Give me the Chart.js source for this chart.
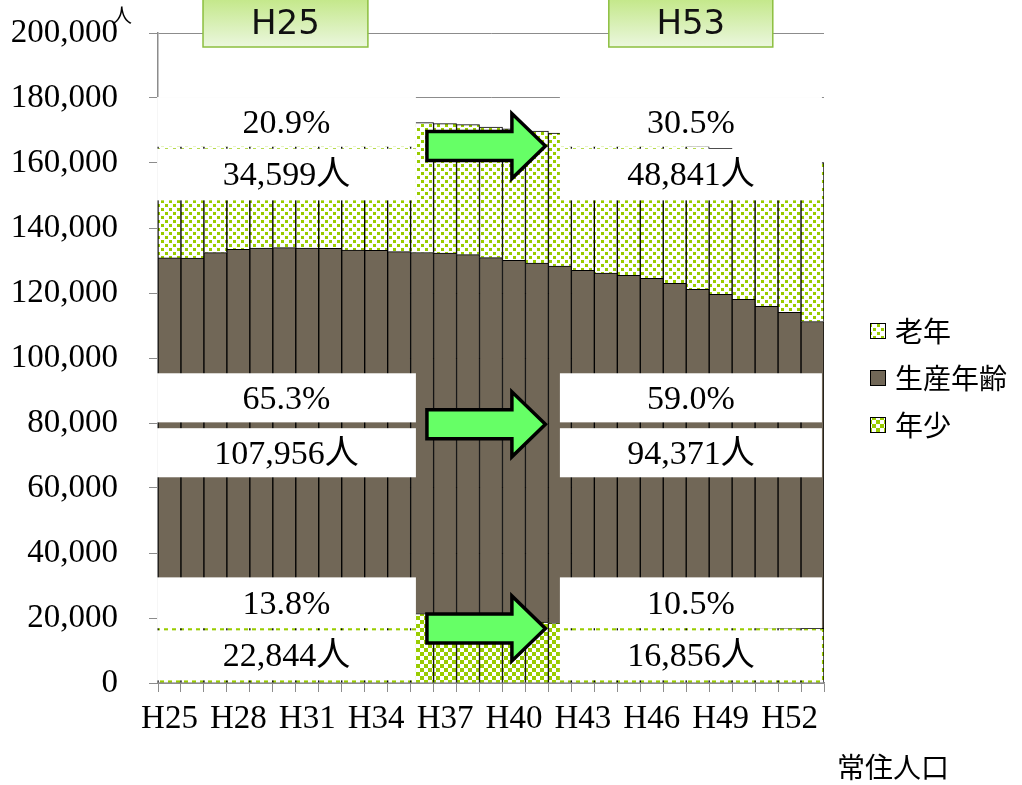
<!DOCTYPE html>
<html><head><meta charset="utf-8">
<script src="https://cdn.jsdelivr.net/npm/chart.js@4"></script>
<style>html,body{margin:0;padding:0;background:#fff;}canvas{display:block;}</style>
</head><body>
<canvas id="c" width="1022" height="785"></canvas>
<script>
// ---- data ----
const years = ['H25','H26','H27','H28','H29','H30','H31','H32','H33','H34','H35','H36','H37','H38','H39','H40','H41','H42','H43','H44','H45','H46','H47','H48','H49','H50','H51','H52','H53'];
const shownTicks = ['H25','H28','H31','H34','H37','H40','H43','H46','H49','H52'];
const youth   = [22844,22700,22550,22400,22250,22100,21950,21800,21700,21600,21480,21350,20900,20400,19900,19400,18770,18550,18350,18150,17950,17800,17650,17500,17350,17200,17080,16960,16856];
const working = [107956,108050,109880,111050,111600,111870,111900,111960,111540,111540,111260,111120,111410,111420,111000,110670,110460,109760,108650,108010,107500,106730,105340,103640,102250,100860,98830,97100,94371];
const elderly = [34599,35300,36000,36700,37300,37800,38300,38700,39100,39400,39700,39950,39820,40000,40180,40460,40620,40930,41400,41800,42300,42800,43400,44100,44900,45800,46700,47700,48841];
const seriesNames = ['年少','生産年齢','老年'];
const leftTexts  = ['20.9%','34,599人','65.3%','107,956人','13.8%','22,844人'];
const rightTexts = ['30.5%','48,841人','59.0%','94,371人','10.5%','16,856人'];
const badgeTexts = ['H25','H53'];
const unitText = '人';
const footText = '常住人口';

// ---- patterns ----
const GREEN = '#99cc00';
function makePattern(draw){
  const c = document.createElement('canvas'); c.width = 8; c.height = 8;
  const g = c.getContext('2d'); g.fillStyle = '#fff'; g.fillRect(0,0,8,8);
  g.fillStyle = GREEN; draw(g);
  return document.getElementById('c').getContext('2d').createPattern(c,'repeat');
}
const checker = makePattern(g => { g.fillRect(0,0,4,4); g.fillRect(4,4,4,4); });
const dots = makePattern(g => { g.fillRect(1,0,3,3); g.fillRect(5,4,3,3); });
const WORK = '#716757';

const serif = "'Liberation Serif','Noto Sans CJK JP',serif";
const cjk = "'Noto Sans CJK JP',sans-serif";

// annotation layout (category index / value space)
const colL = [-0.54, 10.73], colR = [17.0, 28.41];
const rows = [[180300,165000],[164400,148500],[95300,80200],[78400,63300],[32500,16850],[16200,800]];
const arrowCenters = [165200, 79600, 16800];
const arrowX = [11.21, 14.91, 16.37];
const badgeX = [[1.46, 8.64],[19.13, 26.27]];

const overlay = {
  id:'overlay',
  afterDatasetsDraw(chart){
    const {ctx, scales:{x, y}} = chart;
    const X = v => x.getPixelForValue(v), Y = v => y.getPixelForValue(v);
    ctx.save();
    // white boxes with texts
    [[colL,leftTexts],[colR,rightTexts]].forEach(([col,texts]) => {
      rows.forEach((r,i) => {
        const x0 = X(col[0]), x1 = X(col[1]), y0 = Y(r[0]), y1 = Y(r[1]);
        ctx.fillStyle = '#fff'; ctx.fillRect(x0, y0, x1-x0, y1-y0);
        ctx.fillStyle = '#000'; ctx.font = '34px ' + serif;
        ctx.textAlign = 'center'; ctx.textBaseline = 'middle';
        ctx.fillText(texts[i], (x0+x1)/2, (y0+y1)/2 + 2);
      });
    });
    // arrows
    arrowCenters.forEach(v => {
      const cy = Y(v), xl = X(arrowX[0]), xb = X(arrowX[1]), xt = X(arrowX[2]);
      const bh = 14.5, hh = 32.5;
      ctx.beginPath();
      ctx.moveTo(xl, cy-bh); ctx.lineTo(xb, cy-bh); ctx.lineTo(xb, cy-hh);
      ctx.lineTo(xt, cy); ctx.lineTo(xb, cy+hh); ctx.lineTo(xb, cy+bh);
      ctx.lineTo(xl, cy+bh); ctx.closePath();
      ctx.fillStyle = '#66ff66'; ctx.fill();
      ctx.lineWidth = 3.5; ctx.strokeStyle = '#000'; ctx.lineJoin = 'miter'; ctx.stroke();
    });
    // badges
    badgeX.forEach((bx,i) => {
      const x0 = X(bx[0]), x1 = X(bx[1]), y0 = -3, y1 = 47;
      const gr = ctx.createLinearGradient(0, y0, 0, y1);
      gr.addColorStop(0, '#c2e786'); gr.addColorStop(1, '#ebf7de');
      ctx.fillStyle = gr; ctx.fillRect(x0, y0, x1-x0, y1-y0);
      ctx.lineWidth = 1.5; ctx.strokeStyle = '#8cbf3f'; ctx.strokeRect(x0, y0, x1-x0, y1-y0);
      ctx.fillStyle = '#111'; ctx.font = "34px 'DejaVu Sans',sans-serif";
      ctx.textAlign = 'center'; ctx.textBaseline = 'middle';
      ctx.fillText(badgeTexts[i], (x0+x1)/2, 25);
    });
    // unit
    ctx.fillStyle = '#000'; ctx.font = '20px ' + cjk; ctx.textAlign = 'center'; ctx.textBaseline = 'middle';
    ctx.fillText(unitText, 122, 15);
    // legend
    const leg = [[seriesNames[2], dots, 331],[seriesNames[1], WORK, 378],[seriesNames[0], checker, 425]];
    leg.forEach(([name, fill, cy]) => {
      ctx.fillStyle = fill; ctx.fillRect(870, cy-8, 16, 16);
      ctx.lineWidth = 1; ctx.strokeStyle = '#000'; ctx.strokeRect(870.5, cy-7.5, 15, 15);
      ctx.fillStyle = '#000'; ctx.font = '28px ' + cjk; ctx.textAlign = 'left'; ctx.textBaseline = 'middle';
      ctx.fillText(name, 895, cy);
    });
    // footer
    ctx.font = '28px ' + cjk; ctx.textAlign = 'left';
    ctx.fillText(footText, 837, 767);
    ctx.restore();
  }
};

const ds = (label, data, bg) => ({label, data, backgroundColor: bg, borderColor:'#000', borderWidth:1,
  barPercentage:1, categoryPercentage:1, stack:'s'});

new Chart(document.getElementById('c'), {
  type:'bar',
  data:{ labels: years, datasets:[ ds(seriesNames[0], youth, checker), ds(seriesNames[1], working, WORK), ds(seriesNames[2], elderly, dots) ] },
  options:{
    responsive:false, animation:false, devicePixelRatio:1,
    layout:{ padding:{ left:0, right:198, top:33, bottom:0 } },
    plugins:{ legend:{display:false}, tooltip:{enabled:false} },
    scales:{
      x:{ stacked:true,
        grid:{ offset:true, drawOnChartArea:false, drawTicks:true, tickLength:9, color:'#8c8c8c', lineWidth:1 },
        border:{ color:'#8c8c8c', width:1.5 },
        ticks:{ autoSkip:false, maxRotation:0, padding:8, color:'#000', font:{family:serif, size:33},
          callback:function(v,i){ const l = years[i]; return shownTicks.includes(l) ? l : ''; } },
        afterFit(s){ s.height = 102; s.paddingLeft = 0; s.paddingRight = 0; }
      },
      y:{ stacked:true, min:0, max:200000,
        grid:{ color:'#8c8c8c', lineWidth:1, tickLength:9 },
        border:{ color:'#8c8c8c', width:1.5 },
        ticks:{ stepSize:20000, padding:31, color:'#000', font:{family:serif, size:33},
          callback:v => v.toLocaleString('en-US') },
        afterFit(s){ s.width = 158; s.paddingTop = 0; s.paddingBottom = 0; }
      }
    }
  },
  plugins:[overlay]
});
</script>
</body></html>
